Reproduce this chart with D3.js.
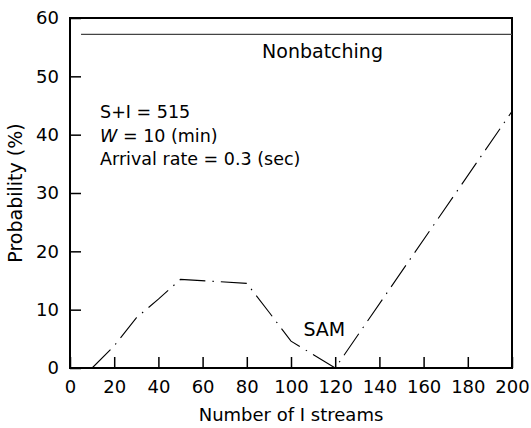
<!DOCTYPE html>
<html>
<head>
<meta charset="utf-8">
<script src="https://cdn.jsdelivr.net/npm/d3@7"></script>
<style>
  body { margin: 0; background: #fff; }
  text { font-family: "DejaVu Sans", sans-serif; fill: #000; }
</style>
</head>
<body>
<div id="chart"></div>
<script>
// values
var samStreams = [10, 20, 30, 40, 50, 80, 90, 100, 120, 200];
var samProb = [0, 3.8, 8.6, 11.8, 15.2, 14.5, 9.6, 4.6, 0, 44];
var nonbatchStreams = [5, 200];
var nonbatchProb = [57.2, 57.2];
var xTicks = [0, 20, 40, 60, 80, 100, 120, 140, 160, 180, 200];
var yTicks = [0, 10, 20, 30, 40, 50, 60];

var margin = {top: 18, right: 19, bottom: 60, left: 70},
    width = 531 - margin.left - margin.right,
    height = 428 - margin.top - margin.bottom;

var svg = d3.select("#chart")
  .append("svg")
    .attr("width", width + margin.left + margin.right)
    .attr("height", height + margin.top + margin.bottom)
  .append("g")
    .attr("transform", "translate(" + margin.left + "," + margin.top + ")");

var x = d3.scaleLinear().domain([0, 200]).range([0, width]);
var y = d3.scaleLinear().domain([0, 60]).range([height, 0]);

// x axis, ticks pointing inward
var xAxis = svg.append("g")
    .attr("transform", "translate(0," + height + ")")
    .call(d3.axisBottom(x).tickValues(xTicks).tickSizeInner(-11).tickSizeOuter(0).tickPadding(12));
xAxis.select(".domain").remove();
xAxis.selectAll("line").attr("stroke", "#000").attr("stroke-width", 1.5);
xAxis.selectAll("text").style("font-size", "18px").style("font-family", "DejaVu Sans");

// y axis
var yAxis = svg.append("g")
    .call(d3.axisLeft(y).tickValues(yTicks).tickSizeInner(-11).tickSizeOuter(0).tickPadding(11));
yAxis.select(".domain").remove();
yAxis.selectAll("line").attr("stroke", "#000").attr("stroke-width", 1.5);
yAxis.selectAll("text").style("font-size", "18px").style("font-family", "DejaVu Sans");

// frame
svg.append("rect")
    .attr("width", width)
    .attr("height", height)
    .attr("fill", "none")
    .attr("stroke", "#000")
    .attr("stroke-width", 2);

var line = d3.line()
    .x(function(d) { return x(d[0]); })
    .y(function(d) { return y(d[1]); });

svg.append("path")
    .datum(d3.zip(nonbatchStreams, nonbatchProb))
    .attr("fill", "none")
    .attr("stroke", "#444")
    .attr("stroke-width", 1.4)
    .attr("d", line);

svg.append("path")
    .datum(d3.zip(samStreams, samProb))
    .attr("fill", "none")
    .attr("stroke", "#000")
    .attr("stroke-width", 1.1)
    .attr("stroke-dasharray", "26,7,1.5,7")
    .attr("d", line);

// labels
svg.append("text")
    .attr("x", x(86.9))
    .attr("y", y(53.2))
    .style("font-size", "19px")
    .text("Nonbatching");

svg.append("text")
    .attr("x", x(105.6))
    .attr("y", y(5.5))
    .style("font-size", "19px")
    .text("SAM");

var notes = svg.append("text")
    .style("font-size", "17.5px");
notes.append("tspan").attr("x", x(13.6)).attr("y", 100.3).text("S+I = 515");
var w = notes.append("tspan").attr("x", x(13.6)).attr("y", 123.7);
w.append("tspan").style("font-style", "italic").text("W");
w.append("tspan").text(" = 10 (min)");
notes.append("tspan").attr("x", x(13.6)).attr("y", 147).text("Arrival rate = 0.3 (sec)");

// axis titles
svg.append("text")
    .attr("x", width / 2)
    .attr("y", height + 53)
    .attr("text-anchor", "middle")
    .style("font-size", "18px")
    .text("Number of I streams");

svg.append("text")
    .attr("transform", "rotate(-90)")
    .attr("x", -height / 2)
    .attr("y", -48)
    .attr("text-anchor", "middle")
    .style("font-size", "19px")
    .text("Probability (%)");
</script>
</body>
</html>
